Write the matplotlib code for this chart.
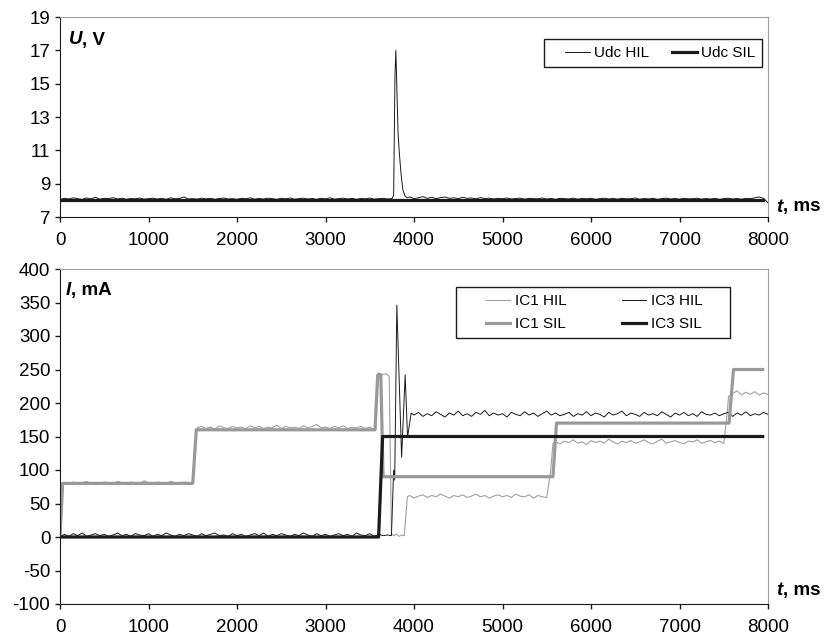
import numpy as np
import matplotlib
matplotlib.use('Agg')
import matplotlib.pyplot as plt
from matplotlib.legend_handler import HandlerLine2D

plt.rcParams['font.family'] = ['Liberation Sans', 'DejaVu Sans']
plt.rcParams['axes.unicode_minus'] = False

# ---- top panel: DC link voltage ----
udc_hil_pre = [8.05, 8.12, 8.08, 8.15, 8.1, 8.06, 8.14, 8.09, 8.18, 8.07,
               8.12, 8.1, 8.16, 8.08, 8.13, 8.06, 8.11, 8.09, 8.14, 8.07,
               8.1, 8.13, 8.08, 8.12, 8.06, 8.15, 8.09, 8.11, 8.2, 8.08,
               8.1, 8.07, 8.13, 8.09, 8.12, 8.06, 8.11, 8.14, 8.08, 8.1,
               8.06, 8.12, 8.09, 8.15, 8.07, 8.11, 8.08, 8.13, 8.1, 8.06,
               8.12, 8.09, 8.14, 8.07, 8.1, 8.13, 8.08, 8.11, 8.06, 8.12,
               8.09, 8.15, 8.07, 8.1, 8.13, 8.08, 8.12, 8.06, 8.11, 8.09,
               8.14, 8.07, 8.1, 8.12, 8.08, 8.1]
udc_spike_t = [3770, 3785, 3795, 3805, 3820, 3835, 3855, 3875, 3900, 3925]
udc_spike_v = [8.3, 15.5, 17.0, 15.0, 12.0, 10.8, 9.5, 8.6, 8.25, 8.15]
udc_hil_post = [8.2, 8.1, 8.15, 8.22, 8.12, 8.18, 8.1, 8.16, 8.2, 8.12,
                8.15, 8.1, 8.18, 8.12, 8.14, 8.09, 8.16, 8.11, 8.13, 8.08,
                8.12, 8.1, 8.14, 8.08, 8.11, 8.13, 8.07, 8.12, 8.1, 8.09,
                8.14, 8.08, 8.11, 8.06, 8.12, 8.1, 8.08, 8.13, 8.07, 8.11,
                8.09, 8.12, 8.06, 8.1, 8.13, 8.08, 8.11, 8.07, 8.12, 8.09,
                8.1, 8.14, 8.07, 8.11, 8.08, 8.12, 8.06, 8.1, 8.13, 8.08,
                8.11, 8.07, 8.12, 8.09, 8.1, 8.13, 8.07, 8.11, 8.08, 8.12,
                8.06, 8.1, 8.13, 8.08, 8.11, 8.07, 8.12, 8.1, 8.15, 8.2,
                8.12, 7.85]
udc_sil_t = [0, 7940]
udc_sil_v = [8.0, 8.0]

# ---- bottom panel: currents ----
ic3_hil_pre = [0, 4, 1, 5, 2, 6, 1, 3, 5, 2,
               4, 1, 3, 6, 2, 4, 1, 5, 3, 2,
               5, 1, 4, 2, 6, 3, 1, 4, 2, 5,
               3, 1, 5, 2, 4, 6, 2, 3, 1, 5,
               2, 4, 1, 3, 5, 2, 6, 1, 4, 2,
               5, 3, 1, 4, 2, 6, 3, 1, 5, 2,
               4, 1, 3, 5, 2, 4, 1, 6, 3, 2,
               5, 1, 4, 2, 3]
ic3_osc_t = [3745, 3770, 3782, 3806, 3860, 3900, 3927, 3968]
ic3_osc_v = [2, 100, 85, 346, 119, 242, 149, 185]
ic3_hil_post = [182, 186, 180, 184, 181, 187, 183, 179, 185, 182,
                188, 181, 184, 180, 186, 183, 189, 181, 185, 182,
                184, 179, 186, 183, 181, 187, 182, 185, 180, 184,
                188, 182, 185, 181, 183, 186, 180, 184, 182, 187,
                181, 185, 183, 179, 186, 182, 184, 188, 181, 185,
                183, 180, 186, 182, 184, 181, 187, 183, 179, 185,
                182, 186, 181, 184, 180, 187, 183, 182, 185, 181,
                184, 186, 180, 185, 182, 187, 181, 184, 182, 186,
                183]

ic1_seg1 = [81, 80, 82, 80, 81, 83, 80, 81, 80, 82,
            81, 80, 83, 81, 80, 82, 81, 80, 84, 81,
            80, 82, 81, 80, 83, 81, 80, 82, 81, 79]
ic1_seg2 = [163, 165, 162, 164, 161, 166, 163, 162, 165, 163,
            164, 162, 166, 163, 165, 162, 164, 163, 167, 162,
            165, 163, 164, 162, 166, 163, 165, 168, 163, 164,
            162, 165, 163, 166, 162, 164, 163, 165, 162, 164, 160]
ic1_peak_t = [3580, 3600, 3640, 3680, 3720, 3745, 3770, 3800, 3830, 3860, 3890, 3925]
ic1_peak_v = [230, 245, 242, 244, 240, 5, 2, 4, 1, 3, 2, 60]
ic1_seg3 = [62, 58, 61, 63, 59, 62, 60, 64, 61, 58,
            62, 60, 63, 59, 61, 64, 60, 62, 58, 61,
            63, 60, 62, 59, 64, 61, 60, 63, 58, 62, 60, 59]
ic1_seg4 = [142, 139, 143, 141, 145, 140, 142, 138, 144, 141,
            143, 140, 146, 142, 139, 143, 141, 144, 140, 142,
            145, 141, 139, 143, 146, 140, 142, 144, 141, 139,
            143, 142, 145, 140, 142, 144, 141, 143, 140]
ic1_seg5 = [214, 218, 212, 216, 213, 217, 212, 215, 213]

ic1_sil_t = [0, 30, 1500, 1540, 3560, 3590, 3625, 3650, 5570, 5610, 7560, 7610, 7940]
ic1_sil_v = [0, 80, 80, 160, 160, 242, 242, 90, 90, 170, 170, 250, 250]
ic3_sil_t = [0, 3600, 3645, 7940]
ic3_sil_v = [0, 0, 150, 150]

# assemble sampled traces (50 ms sampling)
udc_t = np.concatenate([np.arange(0, 3751, 50), udc_spike_t, np.arange(3950, 8001, 50)])
udc_v = np.concatenate([udc_hil_pre, udc_spike_v, udc_hil_post])

ic3_t = np.concatenate([np.arange(0, 3701, 50), ic3_osc_t, np.arange(4000, 8001, 50)])
ic3_v = np.concatenate([ic3_hil_pre, ic3_osc_v, ic3_hil_post])

ic1_t = np.concatenate([[0, 30], np.arange(50, 1501, 50), [1540], np.arange(1550, 3551, 50),
                        ic1_peak_t, np.arange(3950, 5501, 50), [5545, 5570],
                        np.arange(5600, 7501, 50), [7535, 7555], np.arange(7600, 8001, 50)])
ic1_v = np.concatenate([[0, 80], ic1_seg1, [160], ic1_seg2, ic1_peak_v, ic1_seg3,
                        [100, 140], ic1_seg4, [180, 210], ic1_seg5])


class ShortHandle(HandlerLine2D):
    # legend line drawn only in the right part of the handle box
    def __init__(self, frac, **kw):
        super().__init__(**kw)
        self.frac = frac

    def get_xdata(self, legend, xdescent, ydescent, width, height, fontsize):
        x = np.array([-xdescent + width * (1 - self.frac), -xdescent + width])
        return x, x


W, H = 827, 641
fig = plt.figure(figsize=(W / 100, H / 100), dpi=100)
ax1 = fig.add_axes([60 / W, 1 - 217 / H, 708 / W, 200 / H])
ax2 = fig.add_axes([60 / W, 1 - 604 / H, 708 / W, 335 / H])

black = '#1a1a1a'
grey = '#999999'
fs = 13.5
lfs = 11

def style(ax):
    for s in ['top', 'right']:
        ax.spines[s].set_color('#a0a0a0')
    for s in ['left', 'bottom']:
        ax.spines[s].set_color(black)
    ax.tick_params(direction='out', length=3.5, width=1, color=black, labelsize=fs)
    ax.tick_params(axis='x', pad=7.5)
    ax.tick_params(axis='y', pad=3.5)
    ax.set_xlim(0, 8000)
    ax.set_xticks(range(0, 8001, 1000))

def axis_label(ax, x, y, sym, unit):
    t = ax.text(x, y, sym, transform=ax.transAxes, fontsize=fs, fontweight='bold',
                fontstyle='italic', va='center', ha='left')
    ax.annotate(unit, xy=(1, 0), xycoords=t, va='bottom', ha='left',
                fontsize=fs, fontweight='bold')

# top
style(ax1)
h1, = ax1.plot(udc_t, udc_v, color=black, lw=0.7, label='Udc HIL')
h2, = ax1.plot(udc_sil_t, udc_sil_v, color=black, lw=2.3, label='Udc SIL')
ax1.set_ylim(7, 19)
ax1.set_yticks(range(7, 20, 2))
leg1 = ax1.legend(handles=[h1, h2], ncol=2, loc='upper right', bbox_to_anchor=(0.992, 0.89),
                  borderaxespad=0, fancybox=False, framealpha=1, edgecolor=black,
                  fontsize=lfs, handlelength=2.5, handletextpad=0.3, columnspacing=0.6,
                  borderpad=0.45, handler_map={h1: ShortHandle(0.65), h2: ShortHandle(0.65)})
leg1.get_frame().set_linewidth(1)
axis_label(ax1, 0.012, 0.885, 'U', ', V')
axis_label(ax1, 1.012, 0.05, 't', ', ms')

# bottom
style(ax2)
l1, = ax2.plot(ic1_t, ic1_v, color='#a0a0a0', lw=0.8, label='IC1 HIL')
l3, = ax2.plot(ic3_t, ic3_v, color=black, lw=0.7, label='IC3 HIL     ')
l2, = ax2.plot(ic1_sil_t, ic1_sil_v, color=grey, lw=2.3, label='IC1 SIL')
l4, = ax2.plot(ic3_sil_t, ic3_sil_v, color=black, lw=2.3, label='IC3 SIL     ')
ax2.set_ylim(-100, 400)
ax2.set_yticks(range(-100, 401, 50))
hmap = {h: ShortHandle(0.5) for h in (l1, l2, l3, l4)}
leg2 = ax2.legend(handles=[l1, l2, l3, l4], ncol=2, loc='upper right',
                  bbox_to_anchor=(0.946, 0.946), borderaxespad=0, fancybox=False,
                  framealpha=1, edgecolor=black, fontsize=lfs, handlelength=3.1,
                  handletextpad=0.3, columnspacing=2.1, labelspacing=0.6, borderpad=0.45,
                  handler_map=hmap)
leg2.get_frame().set_linewidth(1)
axis_label(ax2, 0.008, 0.937, 'I', ', mA')
axis_label(ax2, 1.012, 0.039, 't', ', ms')

fig.savefig('out.png', dpi=100)
